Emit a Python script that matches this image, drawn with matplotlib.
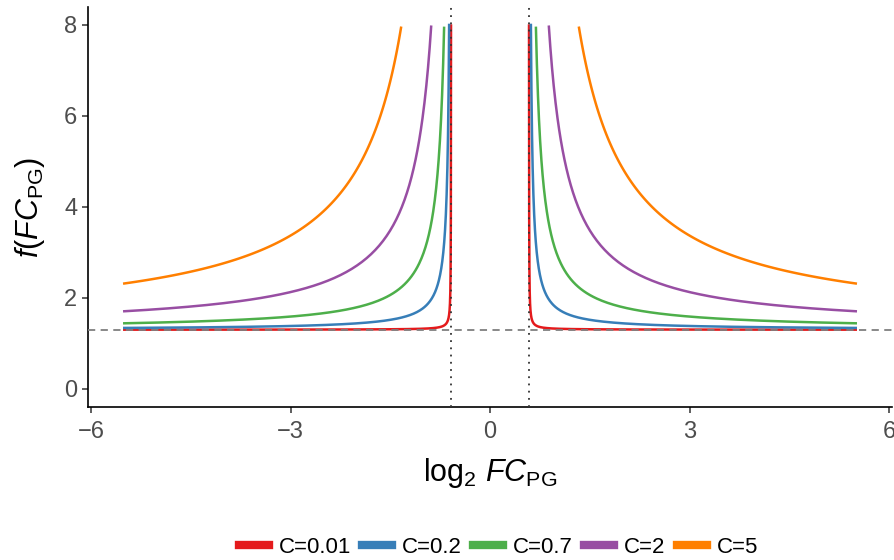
import numpy as np
import matplotlib
matplotlib.use("Agg")
import matplotlib.pyplot as plt
from matplotlib.lines import Line2D

plt.rcParams['font.family'] = ['Liberation Sans', 'DejaVu Sans']
plt.rcParams['mathtext.fontset'] = 'custom'
plt.rcParams['mathtext.rm'] = 'Liberation Sans'
plt.rcParams['mathtext.it'] = 'Liberation Sans:italic'

# curve parameters
c_values = [0.01, 0.2, 0.7, 2, 5]
c_labels = ["C=0.01", "C=0.2", "C=0.7", "C=2", "C=5"]
colors = ["#E41A1C", "#377EB8", "#4DAF4A", "#984EA3", "#FF7F00"]
p_thresh = 1.3          # -log10(0.05)
fc_cut = 0.585          # log2(1.5)
x_max = 5.5
y_cap = 8

fig = plt.figure(figsize=(8.95, 5.6), dpi=100)
ax = fig.add_axes([0.098, 0.273, 0.899, 0.715])

for c, col in zip(c_values, colors):
    for sign in (-1, 1):
        d = np.geomspace(1e-4, x_max - fc_cut, 600)
        x = sign * (fc_cut + d)
        y = p_thresh + c / d
        keep = y <= y_cap
        ax.plot(x[keep], y[keep], color=col, lw=1.8, zorder=2)

ax.axhline(p_thresh, color="#7F7F7F", ls=(0, (4, 3)), lw=1.3, zorder=3)
for v in (-fc_cut, fc_cut):
    ax.axvline(v, color="#333333", ls=(0, (1, 3)), lw=1.3, zorder=3)

ax.set_xlim(-6.05, 6.05)
ax.set_ylim(-0.4, 8.4)
ax.set_xticks([-6, -3, 0, 3, 6])
ax.set_xticklabels(["\u22126", "\u22123", "0", "3", "6"])
ax.set_yticks([0, 2, 4, 6, 8])
for s in ("top", "right"):
    ax.spines[s].set_visible(False)
for s in ("left", "bottom"):
    ax.spines[s].set_linewidth(1.2)
ax.tick_params(labelsize=17, labelcolor="#4D4D4D", length=4, width=1.1, color="#333333")
ax.tick_params(axis="x", pad=6)

ax.set_xlabel(r"$\mathrm{log}_2\ \mathit{FC}_{\mathrm{PG}}$", fontsize=22, labelpad=9)
ax.set_ylabel(r"$\mathit{f}(\mathit{FC}_{\mathrm{PG}})$", fontsize=22, labelpad=12)

handles = [Line2D([], [], color=col, lw=6) for col in colors]
fig.legend(handles, c_labels, loc="center", bbox_to_anchor=(0.557, 0.023), ncol=5,
           frameon=False, fontsize=16, handlelength=1.35, handletextpad=0.45,
           columnspacing=0.5)

fig.savefig("out.png", dpi=100)
